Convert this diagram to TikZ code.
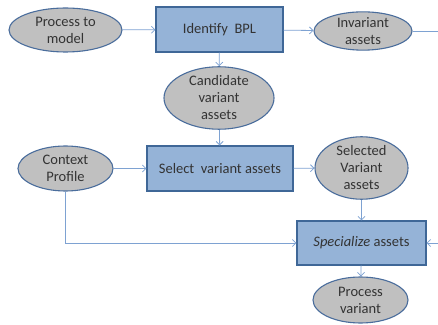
\documentclass[tikz,border=0pt]{standalone}
\usepackage{fontspec}
\setmainfont{Carlito}
\usetikzlibrary{arrows.meta}
\usetikzlibrary{shapes.geometric}
\usetikzlibrary{positioning}

\definecolor{boxfill}{HTML}{95B3D7}
\definecolor{boxline}{HTML}{3F6797}
\definecolor{ellfill}{HTML}{C0C0C0}
\definecolor{ellline}{HTML}{4A6D9C}
\definecolor{flowcol}{HTML}{7EA2D2}
\definecolor{txt}{HTML}{333333}

\begin{document}
\begin{tikzpicture}[x=1pt,y=1pt,
  asset/.style={ellipse, draw=ellline, fill=ellfill, line width=1.1pt,
    inner sep=0pt, align=center, text=txt, font=\fontsize{14.5}{17}\selectfont},
  stepbox/.style={rectangle, draw=boxline, fill=boxfill, line width=1.1pt,
    inner sep=0pt, align=center, text=txt, font=\fontsize{14.5}{17}\selectfont},
  flow/.style={draw=flowcol, line width=0.8pt, -{Straight Barb[length=3.5pt,width=7pt]}}]

  % Fix the page
  \useasboundingbox (0,0) rectangle (438,324);
  \clip (0,0) rectangle (438,324);

  % Top row
  \node[asset, minimum width=113, minimum height=44] (model) at (65.5,294) {Process to\\model};
  \node[stepbox, minimum width=127, minimum height=45] (bpl) at (219.5,294.5) {Identify\ \ BPL};
  \node[asset, minimum width=98, minimum height=37] (invariant) at (363,293) {Invariant\\assets};

  % Candidates
  \node[asset, minimum width=110, minimum height=60] (candidate) at (219,226) {Candidate\\variant\\assets};

  % Middle row
  \node[asset, minimum width=95, minimum height=45] (context) at (65.5,155.5) {Context\\Profile};
  \node[stepbox, minimum width=146, minimum height=45] (select) at (220,155.5) {Select\ \ variant assets};
  \node[asset, minimum width=93, minimum height=56] (selected) at (361.5,156) {Selected\\Variant\\assets};

  % Bottom
  \node[stepbox, minimum width=129, minimum height=44] (specialize) at (361.5,81) {\textit{Specialize} assets};
  \node[asset, minimum width=95, minimum height=46] (variant) at (360.5,24) {Process\\variant};

  % Off-page corners
  \coordinate (edgetop) at (446,293);
  \coordinate (edgebot) at (446,81);
  \coordinate (bend) at (context.south |- specialize.west);

  % Connectors
  \draw[flow] (model) -- (bpl);
  \draw[flow] (bpl) -- (invariant);
  \draw[flow] (bpl) -- (candidate);
  \draw[flow] (candidate) -- (select);
  \draw[flow] (context) -- (select);
  \draw[flow] (select) -- (selected);
  \draw[flow] (selected) -- (specialize);
  \draw[flow] (specialize) -- (variant);
  \draw[flow] (context.south) -- (bend) -- (specialize.west);
  \draw[draw=flowcol, line width=0.8pt] (invariant.east) -- (edgetop) -- (edgebot);
  \draw[flow] (edgebot) -- (specialize.east);
\end{tikzpicture}
\end{document}
